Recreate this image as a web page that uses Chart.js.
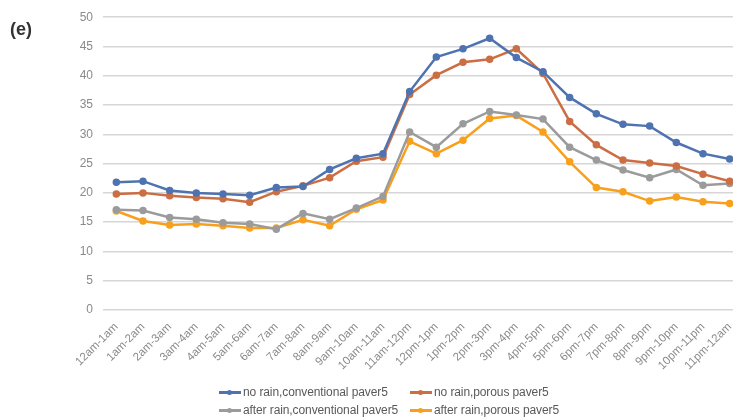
<!DOCTYPE html>
<html>
<head>
<meta charset="utf-8">
<script src="https://cdn.jsdelivr.net/npm/chart.js@4/dist/chart.umd.min.js"></script>
<style>
  html, body { margin: 0; padding: 0; background: #fff; overflow: hidden; }
  #wrap { position: relative; width: 760px; height: 419px; }
  #panel { position: absolute; left: 10px; top: 19px; font: bold 18px "Liberation Sans", Arial, sans-serif; color: #333; }
  .leg { position: absolute; font: 12px "Liberation Sans", Arial, sans-serif; color: #595959; white-space: nowrap; display: flex; align-items: center; letter-spacing: -0.1px; }
  .leg .mk { position: relative; width: 22px; height: 10px; margin-right: 2px; }
  .leg .mk i { position: absolute; left: 0; right: 0; top: 4px; height: 2.5px; }
  .leg .mk b { position: absolute; left: 8px; top: 2.5px; width: 5px; height: 5px; border-radius: 50%; }
</style>
</head>
<body>
<div id="wrap">
  <canvas id="c" width="760" height="419"></canvas>
  <div id="panel">(e)</div>
  <div id="legend"></div>
</div>
<script>
// Hourly periods
const hours = ["12am-1am","1am-2am","2am-3am","3am-4am","4am-5am","5am-6am","6am-7am","7am-8am",
  "8am-9am","9am-10am","10am-11am","11am-12pm","12pm-1pm","1pm-2pm","2pm-3pm","3pm-4pm",
  "4pm-5pm","5pm-6pm","6pm-7pm","7pm-8pm","8pm-9pm","9pm-10pm","10pm-11pm","11pm-12am"];

// Surface temperature series
const noRainConventional = [21.8,22.0,20.4,20.0,19.8,19.6,20.9,21.1,24.0,25.9,26.7,37.3,
  43.2,44.6,46.4,43.1,40.7,36.3,33.5,31.7,31.4,28.6,26.7,25.8];
const noRainPorous = [19.8,20.0,19.5,19.2,19.0,18.4,20.2,21.2,22.6,25.4,26.1,36.8,
  40.1,42.3,42.8,44.6,40.4,32.2,28.2,25.6,25.1,24.6,23.2,22.0];
const afterRainConventional = [17.1,17.0,15.8,15.5,14.9,14.7,13.8,16.5,15.5,17.4,19.4,30.4,
  27.8,31.8,33.9,33.3,32.6,27.8,25.6,23.9,22.6,24.0,21.3,21.6];
const afterRainPorous = [16.9,15.2,14.5,14.7,14.4,14.0,14.0,15.4,14.4,17.2,18.8,28.8,
  26.7,29.0,32.7,33.2,30.4,25.3,20.9,20.2,18.6,19.3,18.5,18.2];

const yTicks = [0,5,10,15,20,25,30,35,40,45,50];

const seriesNames = ["no rain,conventional paver5","no rain,porous paver5",
  "after rain,conventional paver5","after rain,porous paver5"];
const seriesColors = ["#4E73B0","#CC6E43","#9B9B9B","#F8A01C"];
const seriesData = [noRainConventional, noRainPorous, afterRainConventional, afterRainPorous];

const datasets = seriesData.map((d, i) => ({
  label: seriesNames[i],
  data: d,
  borderColor: seriesColors[i],
  backgroundColor: seriesColors[i],
  borderWidth: 2.5,
  pointRadius: 2.5,
  pointHoverRadius: 2.5,
  tension: 0
}));

new Chart(document.getElementById('c'), {
  type: 'line',
  data: { labels: hours, datasets },
  options: {
    responsive: false,
    animation: false,
    layout: { padding: { top: 15, right: 17, bottom: 0, left: 0 } },
    plugins: { legend: { display: false }, tooltip: { enabled: false } },
    scales: {
      x: {
        offset: true,
        grid: { display: false },
        border: { display: false },
        ticks: {
          autoSkip: false, maxRotation: 45, minRotation: 45,
          color: '#8a8a8a', padding: 2,
          font: { family: '"Liberation Sans", Arial, sans-serif', size: 11.5 }
        },
        afterFit: s => { s.height = 109; }
      },
      y: {
        min: 0, max: 50,
        afterBuildTicks: s => { s.ticks = yTicks.map(v => ({ value: v })); },
        grid: { color: '#d6d6d6', lineWidth: 1.5, drawTicks: false },
        border: { display: false },
        ticks: {
          color: '#8a8a8a', padding: 10,
          font: { family: '"Liberation Sans", Arial, sans-serif', size: 12 }
        },
        afterFit: s => { s.width = 103; }
      }
    }
  }
});

// Legend: two rows of two entries
const legPos = [[219,385],[410,385],[219,403],[410,403]];
const legend = document.getElementById('legend');
seriesNames.forEach((name, i) => {
  const el = document.createElement('div');
  el.className = 'leg';
  el.style.left = legPos[i][0] + 'px';
  el.style.top = legPos[i][1] + 'px';
  el.innerHTML = '<span class="mk"><i style="background:' + seriesColors[i] + '"></i><b style="background:' +
    seriesColors[i] + '"></b></span>' + name;
  legend.appendChild(el);
});
</script>
</body>
</html>
